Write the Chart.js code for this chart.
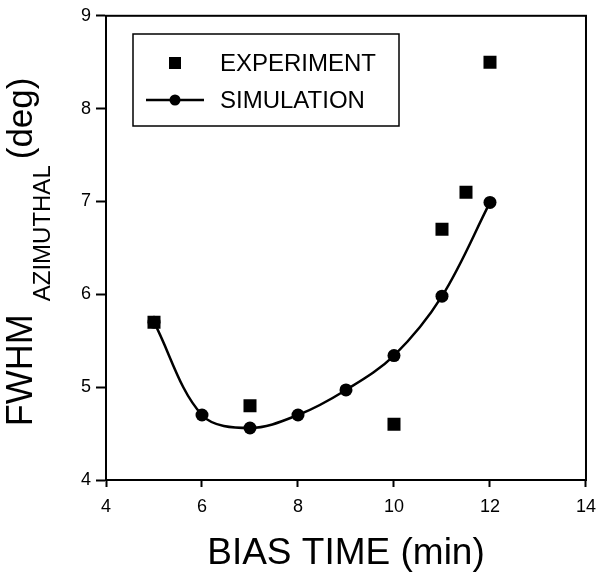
<!DOCTYPE html>
<html>
<head>
<meta charset="utf-8">
<script src="https://cdn.jsdelivr.net/npm/chart.js@4"></script>
<style>
  html, body { margin: 0; padding: 0; background: #fff; }
  #wrap { width: 605px; height: 576px; }
</style>
</head>
<body>
<div id="wrap"><canvas id="fwhmChart" width="605" height="576"></canvas></div>
<script>
// measured widths vs bias time
const expTime = [5, 7, 10, 11, 11.5, 12];
const expFwhm = [5.7, 4.8, 4.6, 6.7, 7.1, 8.5];

const simTime = [5, 6, 7, 8, 9, 10, 11, 12];
const simFwhm = [5.7, 4.7, 4.56, 4.7, 4.97, 5.34, 5.98, 6.99];

const xTicks = [4, 6, 8, 10, 12, 14];
const yTicks = [4, 5, 6, 7, 8, 9];

const FONT = "Arial, 'Liberation Sans', Helvetica, sans-serif";

Chart.defaults.font.family = FONT;
Chart.defaults.color = '#000';

function toPoints(xs, ys) {
    return xs.map((x, i) => ({ x: x, y: ys[i] }));
}

// box around the plot area
const frame = {
    id: 'frame',
    afterDraw(chart) {
        const a = chart.chartArea;
        const ctx = chart.ctx;
        ctx.save();
        ctx.strokeStyle = '#000';
        ctx.lineWidth = 2;
        ctx.strokeRect(a.left, a.top, a.right - a.left, a.bottom - a.top);
        ctx.restore();
    }
};

// legend box in the upper left corner
const legendBox = {
    id: 'legendBox',
    afterDraw(chart) {
        const ctx = chart.ctx;
        const sets = chart.data.datasets;
        ctx.save();
        ctx.strokeStyle = '#000';
        ctx.lineWidth = 1.5;
        ctx.strokeRect(133, 34, 266, 92);

        ctx.fillStyle = '#000';
        ctx.fillRect(169, 57, 12, 12);

        ctx.lineWidth = 2.5;
        ctx.beginPath();
        ctx.moveTo(146, 100);
        ctx.lineTo(204, 100);
        ctx.stroke();
        ctx.beginPath();
        ctx.arc(175, 100, 5.5, 0, Math.PI * 2);
        ctx.fill();

        ctx.font = '24px ' + FONT;
        ctx.textBaseline = 'middle';
        ctx.textAlign = 'left';
        ctx.fillText(sets[0].label, 220, 64);
        ctx.fillText(sets[1].label, 220, 101);
        ctx.restore();
    }
};

// y title with a subscript
const yTitle = {
    id: 'yTitle',
    afterDraw(chart) {
        const a = chart.chartArea;
        const ctx = chart.ctx;
        const parts = [
            { text: 'FWHM', size: 36, shift: 0, gap: 13 },
            { text: 'AZIMUTHAL', size: 24, shift: 18, gap: 6 },
            { text: '(deg)', size: 35, shift: 0, gap: 0 }
        ];
        ctx.save();
        let total = 0;
        parts.forEach(p => {
            ctx.font = p.size + 'px ' + FONT;
            p.w = ctx.measureText(p.text).width;
            total += p.w + p.gap;
        });
        ctx.translate(32, (a.top + a.bottom) / 2 + 4);
        ctx.rotate(-Math.PI / 2);
        ctx.fillStyle = '#000';
        ctx.textBaseline = 'alphabetic';
        ctx.textAlign = 'left';
        let pos = -total / 2;
        parts.forEach(p => {
            ctx.font = p.size + 'px ' + FONT;
            ctx.fillText(p.text, pos, p.shift);
            pos += p.w + p.gap;
        });
        ctx.restore();
    }
};

const ctx = document.getElementById('fwhmChart').getContext('2d');
new Chart(ctx, {
    type: 'scatter',
    data: {
        datasets: [
            {
                label: 'EXPERIMENT',
                data: toPoints(expTime, expFwhm),
                showLine: false,
                pointStyle: 'rect',
                pointRadius: 9.2,
                pointBackgroundColor: '#000',
                pointBorderWidth: 0,
                order: 0
            },
            {
                label: 'SIMULATION',
                data: toPoints(simTime, simFwhm),
                showLine: true,
                borderColor: '#000',
                borderWidth: 2.5,
                tension: 0.35,
                pointStyle: 'circle',
                pointRadius: 6.5,
                pointBackgroundColor: '#000',
                pointBorderWidth: 0,
                order: 1
            }
        ]
    },
    options: {
        responsive: false,
        animation: false,
        layout: { padding: { top: 12, right: 12, left: 0, bottom: 0 } },
        plugins: {
            legend: { display: false },
            tooltip: { enabled: false }
        },
        scales: {
            x: {
                type: 'linear',
                min: 4,
                max: 14,
                afterFit(scale) { scale.height = 96; },
                afterBuildTicks(scale) { scale.ticks = xTicks.map(v => ({ value: v })); },
                grid: { drawOnChartArea: false, drawTicks: true, tickLength: 7, tickColor: '#000', tickWidth: 2 },
                border: { color: '#000', width: 2 },
                ticks: { color: '#000', padding: 9, font: { size: 18 } },
                title: {
                    display: true,
                    text: 'BIAS TIME (min)',
                    color: '#000',
                    font: { size: 37 },
                    padding: { top: 8, bottom: 0 }
                }
            },
            y: {
                type: 'linear',
                min: 4,
                max: 9,
                afterFit(scale) { scale.width = 106; },
                afterBuildTicks(scale) { scale.ticks = yTicks.map(v => ({ value: v })); },
                grid: { drawOnChartArea: false, drawTicks: true, tickLength: 10, tickColor: '#000', tickWidth: 2 },
                border: { color: '#000', width: 2 },
                ticks: { color: '#000', padding: 5, font: { size: 18 } }
            }
        }
    },
    plugins: [frame, legendBox, yTitle]
});
</script>
</body>
</html>
